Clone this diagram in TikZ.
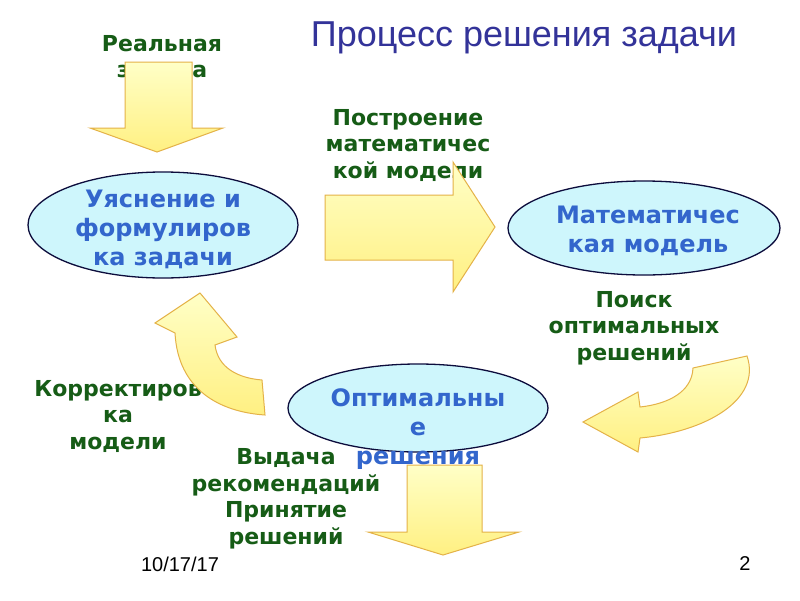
\documentclass[tikz,border=0pt]{standalone}
\usepackage{fontspec}
\setmainfont{DejaVu Sans}
\newfontfamily\titlefont{Liberation Sans}
\usetikzlibrary{shapes.geometric}

\definecolor{titleblue}{RGB}{51,51,153}
\definecolor{stepgreen}{RGB}{22,92,22}
\definecolor{stateblue}{RGB}{51,102,204}
\definecolor{ovalfill}{RGB}{206,246,252}
\definecolor{ovalline}{RGB}{12,12,60}
\definecolor{arrowfill}{RGB}{255,240,130}
\definecolor{arrowline}{RGB}{228,178,72}

\tikzset{
  oval/.style={ellipse, draw=ovalline, line width=1.3pt, fill=ovalfill, inner sep=0pt},
  statetext/.style={text=stateblue, font=\bfseries\fontsize{24}{29}\selectfont, align=center},
  steptext/.style={text=stepgreen, font=\bfseries\fontsize{22}{26.5}\selectfont, align=center},
  blockarrow/.style={draw=arrowline, line width=1pt, top color=yellow!22, bottom color=arrowfill},
}

\begin{document}
\begin{tikzpicture}[x=1pt,y=-1pt]
    \useasboundingbox[fill=white] (0,0) rectangle (800,600);

    % Titulo.
    \node[text=titleblue, font=\titlefont\fontsize{36}{40}\selectfont] (title) at (524,38) {Процесс решения задачи};

    % Textos de las etapas (bajo las flechas).
    \node[steptext] (real) at (162,58) {Реальная\\задача};
    \node[steptext] (build) at (408,145) {Построение\\математичес\\кой модели};
    \node[steptext] (fix) at (118,416) {Корректиров\\ка\\модели};

    % Estados del proceso.
    \node[oval, minimum width=270, minimum height=106] (clarify) at (163,225) {};
    \node[statetext] at (163,229) {Уяснение и\\формулиров\\ка задачи};
    \node[oval, minimum width=272, minimum height=94] (model) at (644,228) {};
    \node[statetext] at (648,231) {Математичес\\кая модель};
    \node[oval, minimum width=260, minimum height=88] (optimum) at (418,408) {};
    \node[statetext] at (418,429) {Оптимальны\\е\\решения};

    % Flechas rectas.
    \draw[blockarrow] (125,62) -- (192,62) -- (192,128) -- (223,128) -- (157,152)
        -- (90,128) -- (125,128) -- cycle;
    \draw[blockarrow] (325,195) -- (453,195) -- (453,162) -- (495,227) -- (453,292)
        -- (453,260) -- (325,260) -- cycle;
    \draw[blockarrow] (407,465) -- (482,465) -- (482,532) -- (519,532) -- (443,555)
        -- (368,532) -- (407,532) -- cycle;

    % Flechas curvas.
    \draw[blockarrow] (747,356) .. controls (762,400) and (705,432) .. (640,438)
        -- (638,452) -- (583,422) -- (638,392) -- (640,407)
        .. controls (668,404) and (692,392) .. (693,368) -- cycle;
    \draw[blockarrow] (200,293) -- (237,337) -- (215,345)
        .. controls (218,368) and (238,378) .. (262,380) -- (265,415)
        .. controls (220,412) and (178,390) .. (175,333) -- (155,323) -- cycle;

    % Textos de las otras etapas.
    \node[steptext] (search) at (634,328) {Поиск\\оптимальных\\решений};
    \node[steptext] (advice) at (286,499) {Выдача\\рекомендаций\\Принятие\\решений};

    % Pie de pagina.
    \node[font=\titlefont\fontsize{20}{24}\selectfont] (date) at (180,564) {10/17/17};
    \node[font=\titlefont\fontsize{20}{24}\selectfont] (page) at (745,564) {2};
\end{tikzpicture}
\end{document}
